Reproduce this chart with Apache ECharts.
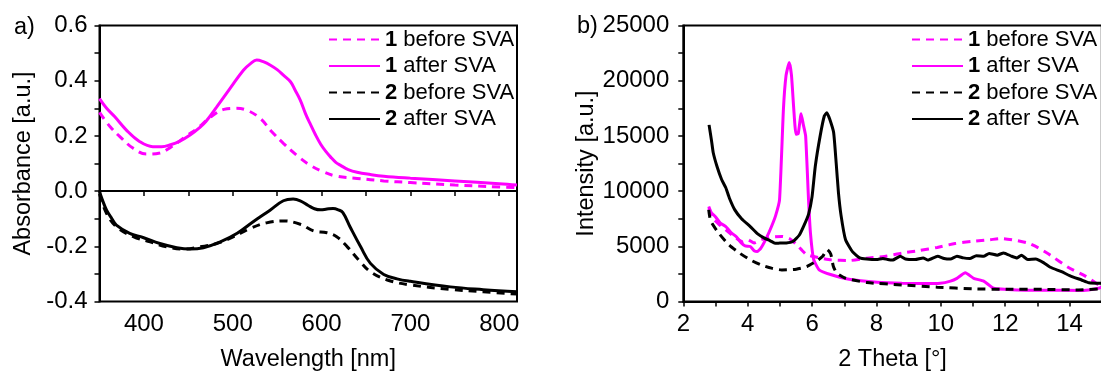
<!DOCTYPE html>
<html>
<head>
<meta charset="utf-8">
<script src="https://cdn.jsdelivr.net/npm/echarts@6/dist/echarts.min.js"></script>
<style>
  html, body { margin: 0; padding: 0; background: #fff; }
  #chart { width: 1101px; height: 372px; }
</style>
</head>
<body>
<div id="chart"></div>
<script>
// a) absorbance spectra
const wl1Before = [350, 362, 375, 388, 403, 418, 431, 448, 460, 475, 490, 503, 516, 531, 544, 557, 572, 587, 602, 617, 640, 670, 700, 750, 800, 820];
const abs1Before = [0.285, 0.233, 0.191, 0.155, 0.134, 0.138, 0.161, 0.2, 0.227, 0.268, 0.296, 0.3, 0.293, 0.263, 0.215, 0.173, 0.13, 0.094, 0.07, 0.054, 0.046, 0.037, 0.031, 0.022, 0.015, 0.013];
const wl1After = [350, 358, 367, 380, 395, 410, 420, 430, 440, 452, 462, 470, 482, 497, 512, 520, 527, 535, 542, 550, 557, 565, 570, 576, 582, 587, 593, 599, 605, 610, 616, 621, 630, 640, 655, 670, 700, 750, 800, 820];
const abs1After = [0.335, 0.3, 0.27, 0.222, 0.18, 0.161, 0.161, 0.168, 0.18, 0.203, 0.228, 0.253, 0.305, 0.372, 0.438, 0.462, 0.475, 0.468, 0.457, 0.44, 0.42, 0.396, 0.367, 0.33, 0.28, 0.245, 0.205, 0.17, 0.143, 0.124, 0.104, 0.094, 0.078, 0.068, 0.06, 0.054, 0.047, 0.037, 0.027, 0.022];
const wl2Before = [350, 358, 369, 388, 407, 426, 445, 463, 482, 501, 520, 538, 557, 576, 591, 606, 617, 629, 642, 655, 674, 700, 745, 782, 820];
const abs2Before = [-0.01, -0.081, -0.129, -0.165, -0.184, -0.202, -0.21, -0.202, -0.19, -0.165, -0.135, -0.115, -0.108, -0.12, -0.144, -0.151, -0.165, -0.202, -0.25, -0.292, -0.322, -0.34, -0.356, -0.365, -0.373];
const wl2After = [350, 353, 358, 364, 369, 384, 399, 418, 437, 452, 467, 486, 505, 523, 542, 557, 568, 576, 585, 592, 599, 606, 613, 619, 624, 632, 644, 655, 670, 685, 700, 745, 782, 820];
const abs2After = [0.0, -0.03, -0.069, -0.1, -0.123, -0.153, -0.168, -0.19, -0.205, -0.21, -0.205, -0.184, -0.153, -0.111, -0.069, -0.035, -0.029, -0.035, -0.052, -0.064, -0.068, -0.065, -0.063, -0.068, -0.078, -0.129, -0.202, -0.262, -0.302, -0.318, -0.327, -0.347, -0.357, -0.365];

// b) XRD patterns
const th1Before = [2.79, 2.9, 3.1, 3.32, 3.64, 3.85, 4.0, 4.2, 4.41, 4.74, 5.07, 5.3, 5.5, 5.7, 5.84, 6.28, 6.6, 7.15, 7.7, 8.25, 8.79, 9.34, 9.89, 10.44, 10.99, 11.53, 11.9, 12.3, 12.7, 13.0, 13.4, 13.95, 14.49, 15];
const int1Before = [8450, 7600, 7000, 6490, 5740, 5400, 5600, 5300, 5590, 5830, 5890, 5700, 5200, 4600, 4230, 3920, 3770, 3710, 3920, 4080, 4380, 4620, 4900, 5250, 5450, 5600, 5700, 5550, 5300, 4900, 4200, 3100, 2300, 1300];
const th1After = [2.79, 2.88, 2.99, 3.15, 3.32, 3.5, 3.64, 3.8, 3.92, 4.08, 4.2, 4.3, 4.41, 4.58, 4.74, 4.87, 4.99, 5.11, 5.19, 5.29, 5.36, 5.43, 5.5, 5.57, 5.66, 5.73, 5.8, 5.89, 5.95, 6.05, 6.22, 6.6, 7.15, 8.03, 8.79, 9.5, 9.98, 10.3, 10.5, 10.76, 11.02, 11.33, 11.64, 12.37, 13.2, 14.44, 14.9, 15];
const int1After = [8600, 8000, 7700, 7100, 6790, 6200, 5890, 5300, 5040, 4980, 4600, 4530, 4830, 5740, 6790, 7800, 9230, 17400, 20440, 21650, 20500, 17500, 15140, 15200, 17000, 16000, 15000, 9230, 6200, 3800, 2870, 2420, 2020, 1750, 1650, 1620, 1650, 1850, 2100, 2600, 2100, 1850, 1200, 1050, 1020, 1000, 1200, 1300];
const th2Before = [2.79, 2.85, 3.1, 3.42, 3.75, 4.08, 4.41, 4.74, 5.06, 5.51, 5.84, 6.16, 6.33, 6.47, 6.58, 6.66, 6.77, 7.04, 7.7, 8.79, 9.89, 10.99, 12.08, 13.18, 14.27, 15];
const int2Before = [8300, 7300, 6190, 5130, 4380, 3770, 3320, 3020, 2860, 2930, 3170, 3700, 4100, 4700, 4300, 3200, 2570, 2110, 1720, 1500, 1300, 1150, 1100, 1100, 1050, 1150];
const th2After = [2.8, 2.88, 2.93, 3.05, 3.19, 3.32, 3.43, 3.6, 3.81, 4.08, 4.3, 4.52, 4.7, 4.85, 5.0, 5.2, 5.4, 5.6, 5.75, 5.89, 6.0, 6.1, 6.25, 6.38, 6.46, 6.55, 6.67, 6.75, 6.82, 6.9, 7.04, 7.26, 7.48, 7.7, 8.0, 8.2, 8.35, 8.5, 8.74, 8.9, 9.2, 9.45, 9.6, 9.9, 10.1, 10.3, 10.5, 10.7, 10.9, 11.1, 11.33, 11.5, 11.75, 11.95, 12.2, 12.37, 12.5, 12.7, 12.95, 13.2, 13.4, 13.75, 14.0, 14.37, 14.6, 15];
const int2After = [16000, 14500, 13470, 12200, 11050, 10300, 9380, 8300, 7500, 6790, 6150, 5740, 5500, 5280, 5290, 5300, 5430, 6000, 6900, 7900, 9500, 12250, 14980, 16800, 17100, 16500, 15300, 12500, 9840, 7800, 5590, 4500, 3950, 3850, 3800, 3900, 3800, 3750, 4100, 3850, 3800, 3950, 3750, 4100, 3900, 3850, 4100, 3950, 3900, 4150, 4100, 4350, 4200, 4400, 4100, 3950, 4200, 3800, 3850, 3500, 3100, 2700, 2350, 1950, 1700, 1650];

const names = ['1 before SVA', '1 after SVA', '2 before SVA', '2 after SVA'];
const magenta = '#ff00ff';
const font = 'Liberation Sans, Arial, sans-serif';

const pts = (xs, ys) => xs.map((x, i) => [x, ys[i]]);

const line = (name, idx, data, color, dashed, smooth) => ({
  name: name,
  type: 'line',
  xAxisIndex: idx,
  yAxisIndex: idx,
  data: data,
  symbol: 'none',
  smooth: smooth,
  lineStyle: { color: color, width: 3, type: dashed ? [8, 6] : 'solid' },
  itemStyle: { color: color },
  animation: false,
});

const axisCommon = {
  axisLine: { show: true, lineStyle: { color: '#000', width: 2 } },
  axisTick: { show: true, inside: false, length: 5, lineStyle: { color: '#000', width: 1.5 } },
  splitLine: { show: false },
  nameLocation: 'middle',
  nameTextStyle: { fontFamily: font, fontSize: 23.5, color: '#000' },
};

const labelStyle = (margin, fmt) => ({
  margin: margin,
  fontFamily: font,
  fontSize: 24,
  color: '#000',
  formatter: fmt,
  hideOverlap: false,
});

const legendCommon = {
  orient: 'vertical',
  top: 27.5,
  padding: 0,
  itemWidth: 51,
  itemHeight: 14,
  itemGap: 2.5,
  itemStyle: { opacity: 0 },
  formatter: (n) => n.replace(/^(\d) /, '{b|$1} '),
  textStyle: {
    fontFamily: font,
    fontSize: 22,
    color: '#000',
    lineHeight: 24,
    rich: { b: { fontFamily: font, fontSize: 22, fontWeight: 'bold', lineHeight: 24 } },
  },
  data: names,
};

const gridCommon = {
  top: 25.5,
  height: 276,
  width: 417.5,
  show: true,
  borderColor: '#000',
  borderWidth: 2,
  containLabel: false,
  outerBoundsMode: 'none',
};

const chart = echarts.init(document.getElementById('chart'), null, { renderer: 'canvas' });
chart.setOption({
  animation: false,
  backgroundColor: '#fff',
  title: [
    { text: 'a)', left: 9, top: 11, textStyle: { fontFamily: font, fontSize: 23.5, fontWeight: 'normal', color: '#000' } },
    { text: 'b)', left: 572, top: 10, textStyle: { fontFamily: font, fontSize: 23.5, fontWeight: 'normal', color: '#000' } },
  ],
  legend: [
    Object.assign({}, legendCommon, { left: 328 }),
    Object.assign({}, legendCommon, { left: 911 }),
  ],
  grid: [
    Object.assign({}, gridCommon, { left: 99.5 }),
    Object.assign({}, gridCommon, { left: 683.3, width: 418.5 }),
  ],
  xAxis: [
    Object.assign({}, axisCommon, {
      type: 'value', gridIndex: 0, min: 350, max: 820, interval: 50,
      name: 'Wavelength [nm]', nameGap: 46,
      axisLabel: labelStyle(11, (v) => (v % 100 === 0 ? String(v) : '')),
    }),
    Object.assign({}, axisCommon, {
      type: 'value', gridIndex: 1, min: 2, max: 15, interval: 1,
      name: '2 Theta [°]', nameGap: 46,
      axisLabel: labelStyle(11, (v) => (Math.round(v) % 2 === 0 ? String(Math.round(v)) : '')),
    }),
  ],
  yAxis: [
    Object.assign({}, axisCommon, {
      type: 'value', gridIndex: 0, min: -0.4, max: 0.6, interval: 0.1,
      name: 'Absorbance [a.u.]', nameGap: 64,
      axisLabel: labelStyle(12, (v) => {
        const k = Math.round(v * 10);
        return k % 2 === 0 ? (k / 10).toFixed(1) : '';
      }),
    }),
    Object.assign({}, axisCommon, {
      type: 'value', gridIndex: 1, min: 0, max: 25000, interval: 2500,
      name: 'Intensity [a.u.]', nameGap: 83,
      axisLabel: labelStyle(14, (v) => (v % 5000 === 0 ? String(v) : '')),
    }),
  ],
  series: [
    line(names[0], 0, pts(wl1Before, abs1Before), magenta, true, 0.4),
    line(names[1], 0, pts(wl1After, abs1After), magenta, false, 0.4),
    line(names[2], 0, pts(wl2Before, abs2Before), '#000', true, 0.4),
    line(names[3], 0, pts(wl2After, abs2After), '#000', false, 0.4),
    line(names[0], 1, pts(th1Before, int1Before), magenta, true, 0.2),
    line(names[1], 1, pts(th1After, int1After), magenta, false, 0.15),
    line(names[2], 1, pts(th2Before, int2Before), '#000', true, 0.2),
    line(names[3], 1, pts(th2After, int2After), '#000', false, 0.15),
  ],
});
</script>
</body>
</html>
